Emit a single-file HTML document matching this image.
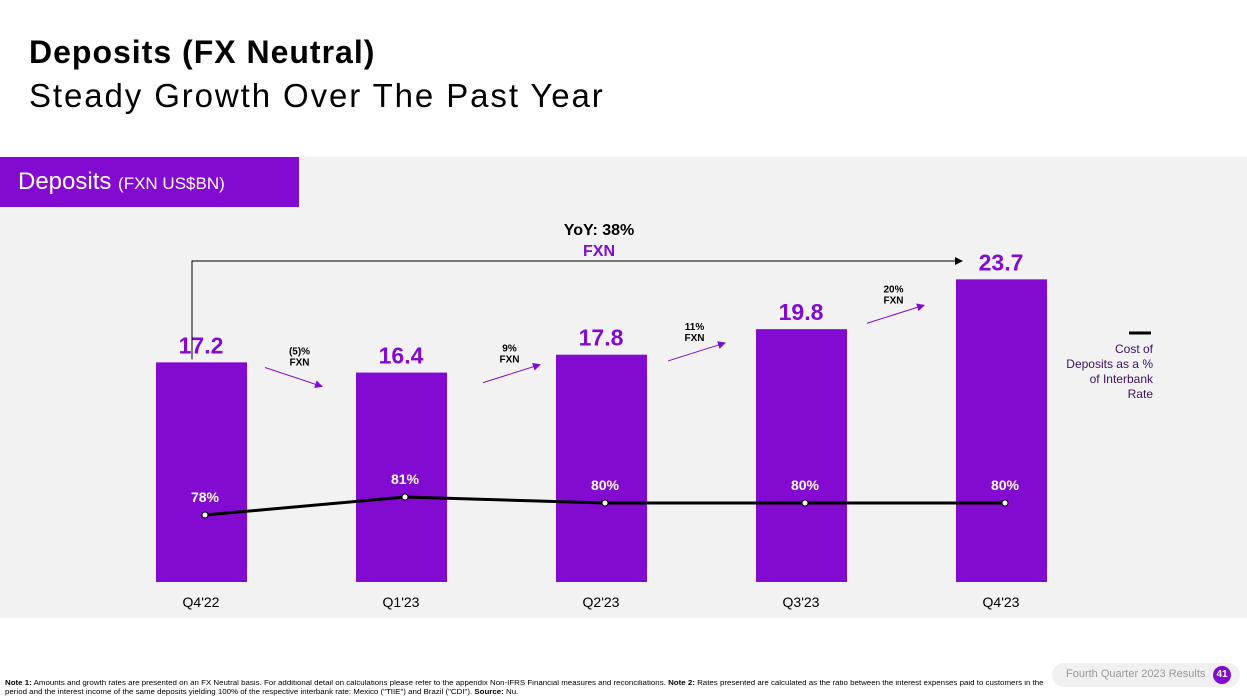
<!DOCTYPE html>
<html><head><meta charset="utf-8"><style>
body{margin:0;width:1247px;height:698px;background:#fff;font-family:"Liberation Sans",sans-serif;position:relative;overflow:hidden}
.t{position:absolute;white-space:nowrap}
</style></head><body>
<div class="t" style="left:29px;top:34px;font-size:32px;font-weight:bold;color:#000;letter-spacing:1px">Deposits (FX Neutral)</div>
<div class="t" style="left:29px;top:77px;font-size:33px;color:#000;letter-spacing:1.9px">Steady Growth Over The Past Year</div>
<div style="position:absolute;left:0;top:157px;width:1247px;height:461px;background:#f2f2f2"></div>
<div style="position:absolute;left:0;top:157px;width:299px;height:50px;background:#820ad1"></div>
<div class="t" style="left:18px;top:168px;font-size:24px;color:#fff">Deposits <span style="font-size:17px">(FXN US$BN)</span></div>
<svg id="chart" width="1247" height="698" style="position:absolute;left:0;top:0" font-family="Liberation Sans, sans-serif"></svg>
<div class="t" style="left:5px;top:679px;font-size:7px;line-height:9px;color:#000;transform:scaleX(1.13);transform-origin:0 0">
<b>Note 1:</b> Amounts and growth rates are presented on an FX Neutral basis. For additional detail on calculations please refer to the appendix Non-IFRS Financial measures and reconciliations. <b>Note 2:</b> Rates presented are calculated as the ratio between the interest expenses paid to customers in the<br>period and the interest income of the same deposits yielding 100% of the respective interbank rate: Mexico ("TIIE") and Brazil ("CDI"). <b>Source:</b> Nu.</div>
<div style="position:absolute;left:1052px;top:663px;width:188px;height:24px;border-radius:12px;background:#f0f0f0"></div>
<div class="t" style="left:1066px;top:668px;font-size:11px;color:#999">Fourth Quarter 2023 Results</div>
<div class="t" style="left:1213px;top:666px;width:18px;height:18px;border-radius:9px;background:#820ad1;color:#fff;font-size:10px;font-weight:bold;text-align:center;line-height:18px">41</div>
<script>
const categories=["Q4'22","Q1'23","Q2'23","Q3'23","Q4'23"];
const deposits=[17.2,16.4,17.8,19.8,23.7];
const costPct=[78,81,80,80,80];
const growthLabels=["(5)%","9%","11%","20%"];
const svg=document.getElementById('chart');
const NS='http://www.w3.org/2000/svg';
function mk(tag,attrs,text){const e=document.createElementNS(NS,tag);for(const k in attrs)e.setAttribute(k,attrs[k]);if(text!==undefined)e.textContent=text;svg.appendChild(e);return e;}
const xC=i=>201+i*200;
const yBar=v=>582-v*12.77;
const yLine=v=>503-(v-80)*6;
const arrowShift=[0,18,3,2];
const defs=mk('defs',{});
defs.innerHTML='<marker id="ap" markerWidth="8" markerHeight="8" refX="7" refY="4" orient="auto"><path d="M0,0L8,4L0,8z" fill="#820ad1"/></marker><marker id="ab" markerWidth="8" markerHeight="8" refX="7" refY="4" orient="auto"><path d="M0,0L8,4L0,8z" fill="#000"/></marker>';
deposits.forEach((v,i)=>{
 const r=mk('rect',{x:xC(i)-45,y:yBar(v),width:91,height:582-yBar(v),fill:'#820ad1'});
 
 
 const t=mk('text',{x:xC(i),y:yBar(v)-9,'text-anchor':'middle','font-size':23,'font-weight':'bold',fill:'#820ad1'},v.toFixed(1));
 
 
 const c=mk('text',{x:xC(i),y:607,'text-anchor':'middle','font-size':14,fill:'#000'},categories[i]);
 
 
});
const pts=costPct.map((v,i)=>(xC(i)+4)+','+yLine(v)).join(' ');
const pl=mk('polyline',{points:pts,fill:'none',stroke:'#000','stroke-width':3});


costPct.forEach((v,i)=>{
 const c=mk('circle',{cx:xC(i)+4,cy:yLine(v),r:3,fill:'#fff',stroke:'#000','stroke-width':1});
 
 
 const t=mk('text',{x:xC(i)+4,y:yLine(v)-13,'text-anchor':'middle','font-size':14,'font-weight':'bold',fill:'#fff'},v+'%');
 
 
});
growthLabels.forEach((g,i)=>{
 const x0=xC(i)+64+arrowShift[i],x1=x0+57;
 const y0=(yBar(deposits[i])+yBar(deposits[i+1]))/2+10;
 const up=deposits[i+1]>deposits[i];
 const ya=up?y0+9:y0-10, yb=up?y0-9:y0+9;
 const a=mk('line',{x1:x0,y1:ya,x2:x1,y2:yb,stroke:'#820ad1','stroke-width':1,'marker-end':'url(#ap)'});
 
 
 const lx=(x0+x1)/2+(up?-2:6), ly=Math.min(ya,yb)-13;
 const t1=mk('text',{x:lx,y:ly,'text-anchor':'middle','font-size':10,'font-weight':'bold',fill:'#000'},g);
 
 
 const t2=mk('text',{x:lx,y:ly+11,'text-anchor':'middle','font-size':10,'font-weight':'bold',fill:'#000'},'FXN');
 
 
});
const yb=mk('polyline',{points:'192,'+(yBar(deposits[0])-3)+' 192,261 962,261',fill:'none',stroke:'#000','stroke-width':1,'marker-end':'url(#ab)'});


const y1=mk('text',{x:599,y:235,'text-anchor':'middle','font-size':16,'font-weight':'bold',fill:'#000'},'YoY: 38%');


const y2=mk('text',{x:599,y:256,'text-anchor':'middle','font-size':16,'font-weight':'bold',fill:'#820ad1'},'FXN');


const lg=mk('line',{x1:1129,y1:333,x2:1151,y2:333,stroke:'#000','stroke-width':3});


["Cost of","Deposits as a %","of Interbank","Rate"].forEach((s,i)=>{
 const t=mk('text',{x:1153,y:353+i*15,'text-anchor':'end','font-size':12,fill:'#3b1163'},s);
 
 
});
</script>
</body></html>
